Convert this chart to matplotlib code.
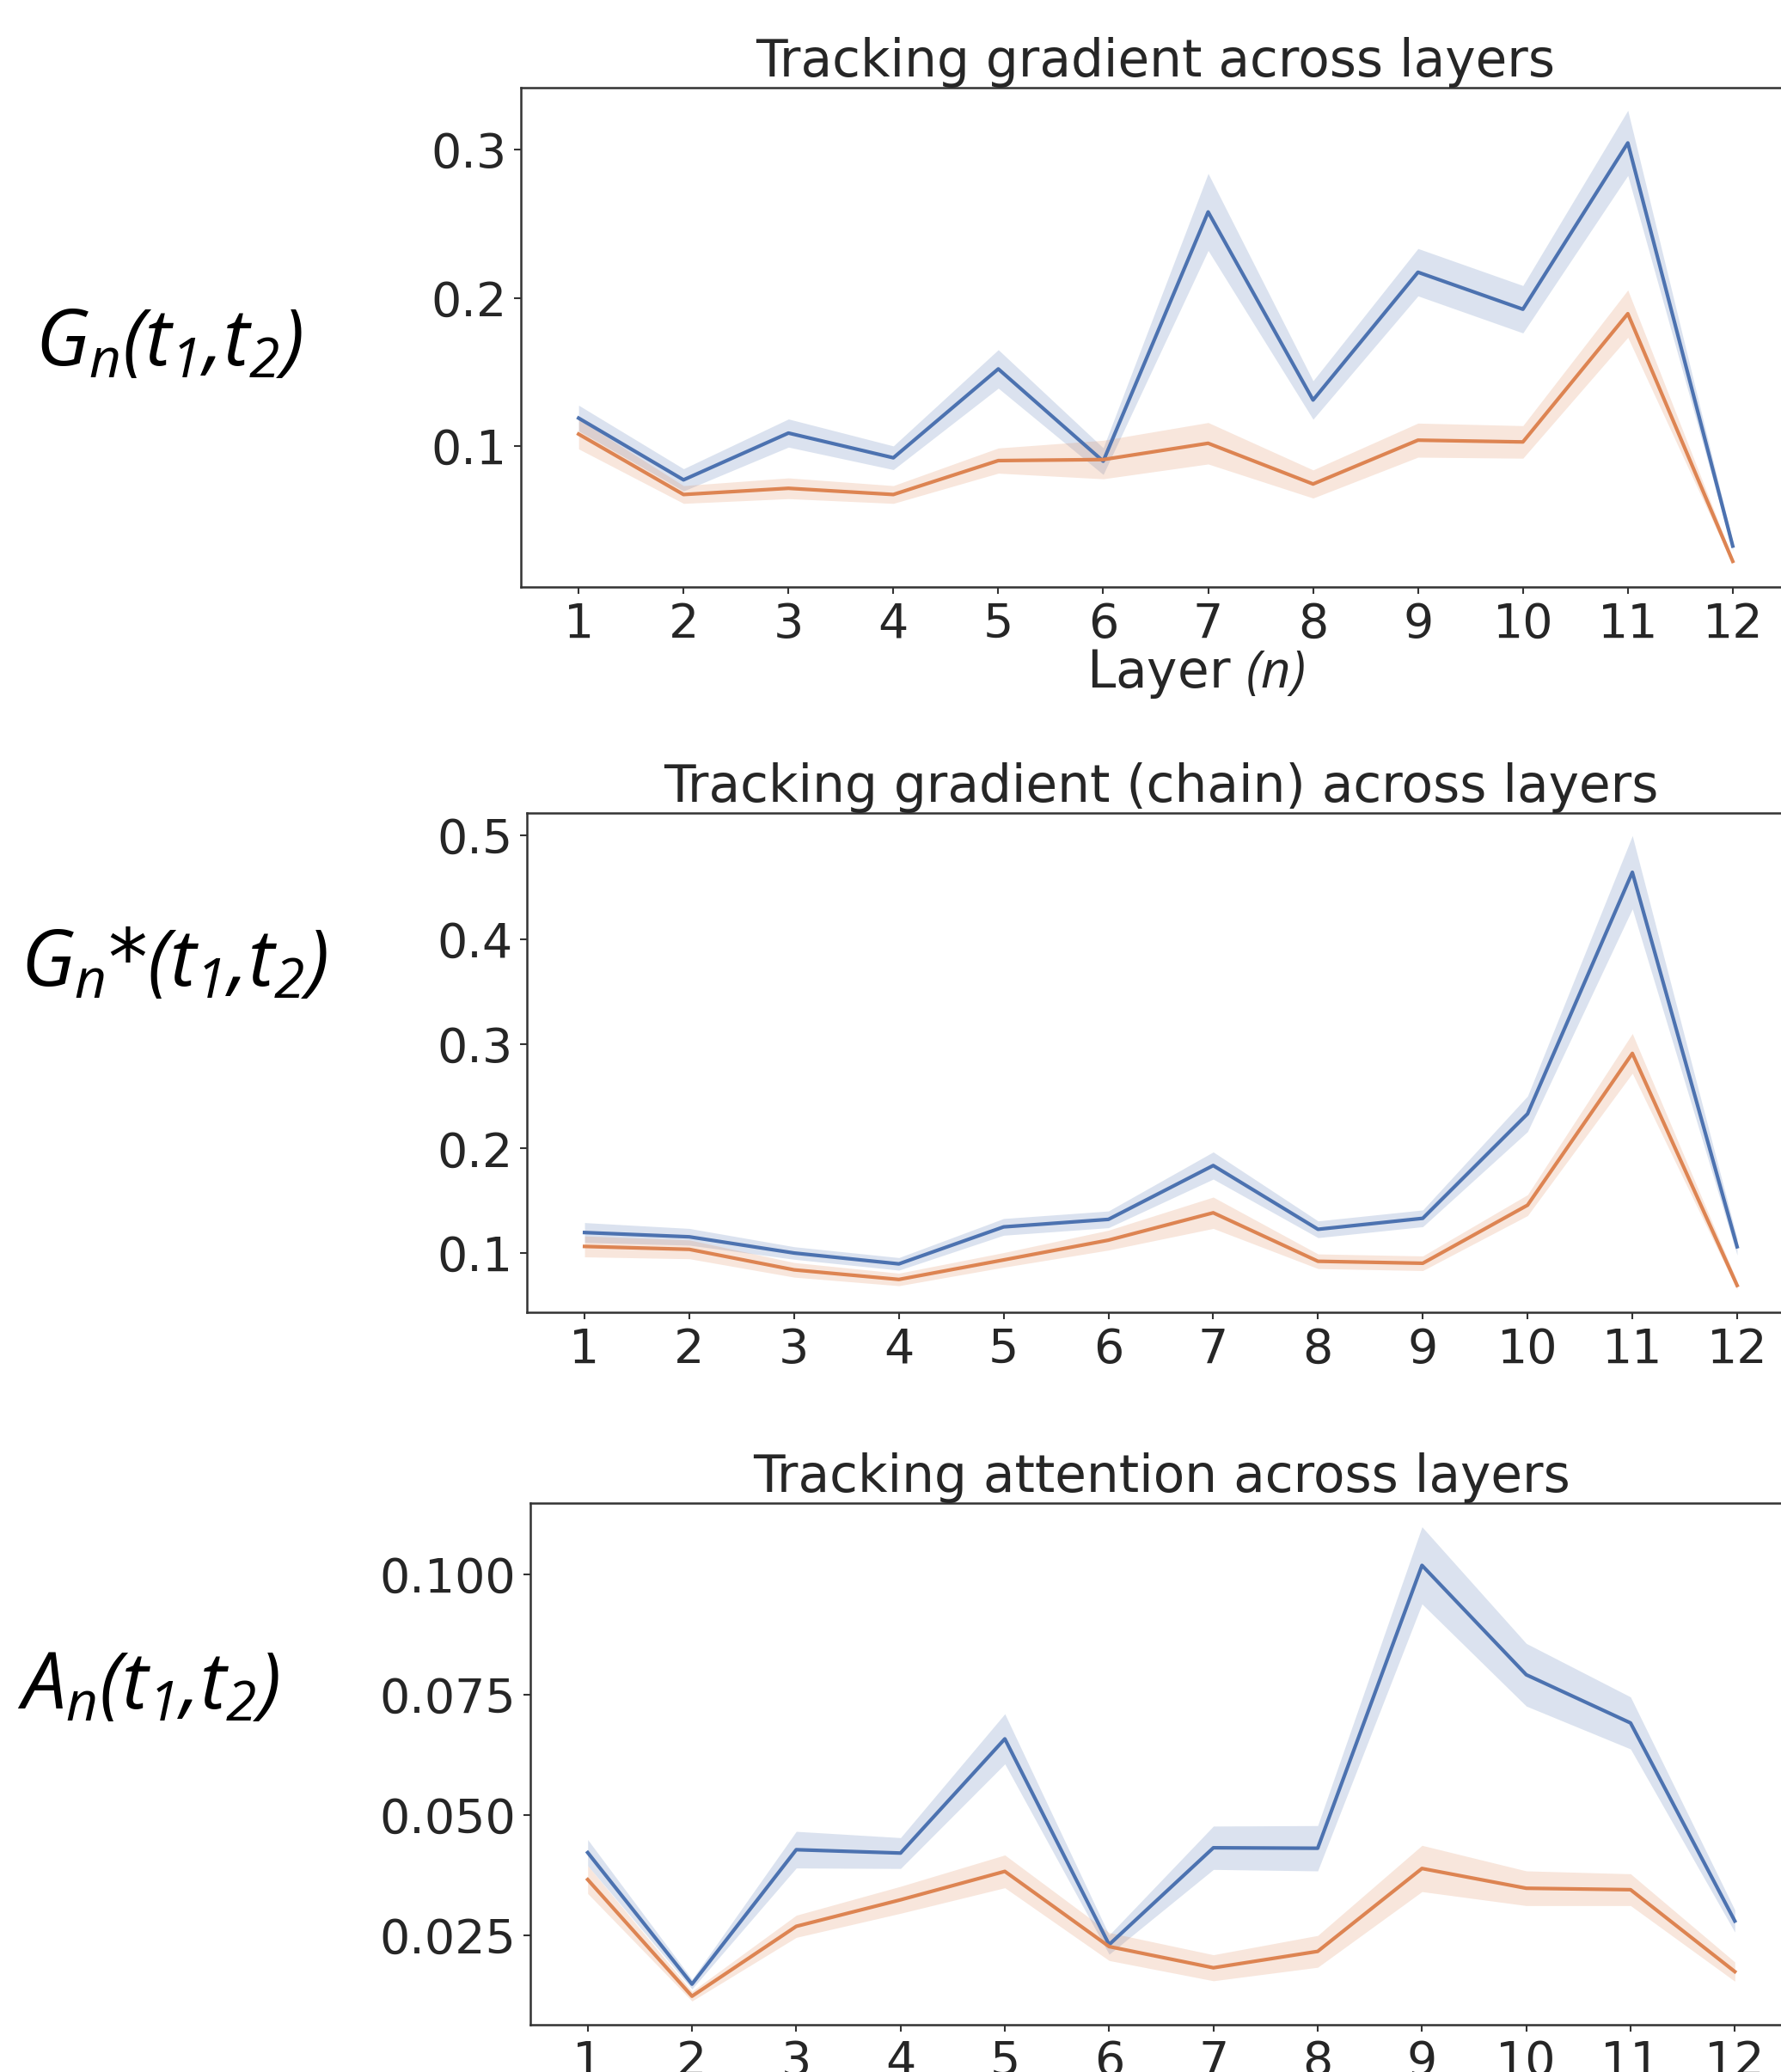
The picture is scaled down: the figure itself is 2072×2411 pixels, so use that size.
import matplotlib
matplotlib.use("Agg")
import matplotlib.pyplot as plt
import numpy as np

# ---------------- data ----------------
layers = [1, 2, 3, 4, 5, 6, 7, 8, 9, 10, 11, 12]

grad_blue = [0.1188, 0.0771, 0.1087, 0.0920, 0.1520, 0.0897, 0.2580, 0.1310, 0.2173, 0.1923, 0.3046, 0.0324]
grad_blue_ci = [0.0087, 0.0075, 0.0095, 0.0080, 0.0130, 0.0090, 0.0260, 0.0130, 0.0160, 0.0160, 0.0220, 0.0030]
grad_orange = [0.1080, 0.0672, 0.0714, 0.0672, 0.0901, 0.0908, 0.1018, 0.0743, 0.1039, 0.1027, 0.1893, 0.0221]
grad_orange_ci = [0.0100, 0.0060, 0.0070, 0.0060, 0.0085, 0.0130, 0.0140, 0.0095, 0.0115, 0.0110, 0.0160, 0.0020]

chain_blue = [0.1196, 0.1155, 0.1000, 0.0896, 0.1250, 0.1322, 0.1837, 0.1227, 0.1332, 0.2332, 0.4643, 0.1060]
chain_blue_ci = [0.0095, 0.0080, 0.0060, 0.0060, 0.0080, 0.0080, 0.0130, 0.0080, 0.0080, 0.0170, 0.0350, 0.0080]
chain_orange = [0.1063, 0.1035, 0.0839, 0.0747, 0.0934, 0.1123, 0.1385, 0.0921, 0.0902, 0.1458, 0.2910, 0.0690]
chain_orange_ci = [0.0100, 0.0090, 0.0070, 0.0060, 0.0070, 0.0095, 0.0150, 0.0070, 0.0070, 0.0100, 0.0190, 0.0040]

att_blue = [0.0422, 0.0149, 0.0428, 0.0421, 0.0658, 0.0231, 0.0432, 0.0431, 0.1018, 0.0791, 0.0691, 0.0280]
att_blue_ci = [0.0027, 0.0010, 0.0038, 0.0032, 0.0052, 0.0020, 0.0045, 0.0047, 0.0080, 0.0065, 0.0054, 0.0023]
att_orange = [0.0366, 0.0124, 0.0269, 0.0324, 0.0383, 0.0227, 0.0183, 0.0217, 0.0389, 0.0348, 0.0345, 0.0175]
att_orange_ci = [0.0029, 0.0010, 0.0023, 0.0028, 0.0034, 0.0029, 0.0027, 0.0033, 0.0048, 0.0036, 0.0033, 0.0020]

titles = ["Tracking gradient across layers",
          "Tracking gradient (chain) across layers",
          "Tracking attention across layers"]
row_labels = [r"$G_n(t_1{,}t_2)$", r"$G_n$*$(t_1{,}t_2)$", r"$A_n(t_1{,}t_2)$"]
yticks_list = [[0.1, 0.2, 0.3],
               [0.1, 0.2, 0.3, 0.4, 0.5],
               [0.025, 0.050, 0.075, 0.100]]
ytick_fmt = ["{:.1f}", "{:.1f}", "{:.3f}"]

# ---------------- style ----------------
plt.rcParams['font.family'] = ['DejaVu Sans']
plt.rcParams['mathtext.fontset'] = 'custom'
plt.rcParams['mathtext.it'] = 'Open Sans:italic'
plt.rcParams['mathtext.rm'] = 'Open Sans:italic'
plt.rcParams['mathtext.default'] = 'it'

BLUE = "#4C72B0"
ORANGE = "#DD8452"
TXT = "#262626"
SPINE = "#333333"

W, H = 2072, 2411
fig = plt.figure(figsize=(W / 100, H / 100), dpi=100)

# axes boxes in pixel coordinates: (left, top, right, bottom)
boxes = [(606, 102, 2083, 683),
         (613, 946, 2088, 1527),
         (617, 1749, 2085, 2356)]

series = [(grad_blue, grad_blue_ci, grad_orange, grad_orange_ci),
          (chain_blue, chain_blue_ci, chain_orange, chain_orange_ci),
          (att_blue, att_blue_ci, att_orange, att_orange_ci)]

label_pos = [(196, 425), (202, 1147), (173, 1988)]

x = np.array(layers)
for i, (box, (b, bci, o, oci)) in enumerate(zip(boxes, series)):
    l, t, r, btm = box
    ax = fig.add_axes([l / W, 1 - btm / H, (r - l) / W, (btm - t) / H])
    b = np.array(b); bci = np.array(bci); o = np.array(o); oci = np.array(oci)
    ax.fill_between(x, b - bci, b + bci, color=BLUE, alpha=0.2, linewidth=0)
    ax.plot(x, b, color=BLUE, lw=3.0)
    ax.fill_between(x, o - oci, o + oci, color=ORANGE, alpha=0.2, linewidth=0)
    ax.plot(x, o, color=ORANGE, lw=3.0)
    ax.set_xlim(0.45, 12.55)
    ax.margins(y=0.05)
    ax.set_xticks(layers)
    ax.set_xticklabels([str(v) for v in layers])
    yt = yticks_list[i]
    ax.set_yticks(yt)
    ax.set_yticklabels([ytick_fmt[i].format(v) for v in yt])
    ax.tick_params(axis='both', labelsize=40, length=6, width=1.5,
                   color=SPINE, labelcolor=TXT, direction='out', pad=6)
    for s in ax.spines.values():
        s.set_color(SPINE)
        s.set_linewidth(1.8)
    ax.set_title(titles[i], fontsize=43, color=TXT, pad=6)
    fig.text(label_pos[i][0] / W, 1 - label_pos[i][1] / H, row_labels[i],
             fontsize=66, ha='center', va='baseline', color='black')

# x-axis label of the first panel
fig.text(1391 / W, 1 - 800 / H, r"Layer $(n)$", fontsize=43, color=TXT,
         ha='center', va='baseline')

fig.savefig("out.png", dpi=100, facecolor='white')
